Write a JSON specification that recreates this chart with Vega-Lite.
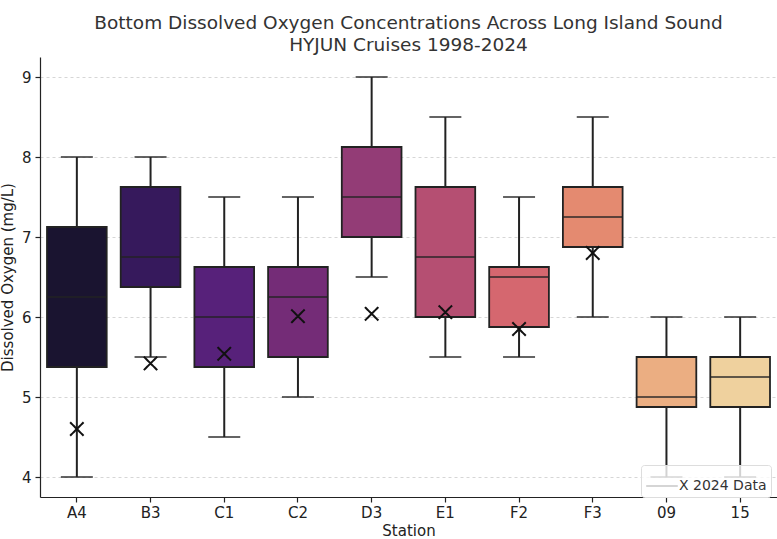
{
  "$schema": "https://vega.github.io/schema/vega-lite/v6.json",
  "width": 737,
  "height": 440,
  "autosize": {"type": "none"},
  "padding": {"left": 40, "top": 57, "right": 0, "bottom": 42},
  "background": "white",
  "title": {
    "text": ["Bottom Dissolved Oxygen Concentrations Across Long Island Sound", "HYJUN Cruises 1998-2024"],
    "font": "DejaVu Sans",
    "fontSize": 18.5,
    "fontWeight": "normal",
    "color": "#333333",
    "lineHeight": 22,
    "anchor": "middle",
    "offset": 3
  },
  "config": {
    "view": {"stroke": null},
    "axis": {
      "labelFont": "DejaVu Sans",
      "titleFont": "DejaVu Sans",
      "labelFontSize": 15,
      "titleFontSize": 15,
      "titleFontWeight": "normal",
      "labelColor": "#222222",
      "titleColor": "#222222",
      "domainColor": "#222222",
      "tickColor": "#222222",
      "domainWidth": 1.2,
      "tickWidth": 1.2,
      "tickSize": 5
    }
  },
  "datasets": {
    "boxes": [
      {"station": "A4", "min": 4.0, "q1": 5.375, "median": 6.25, "q3": 7.125, "max": 8.0},
      {"station": "B3", "min": 5.5, "q1": 6.375, "median": 6.75, "q3": 7.625, "max": 8.0},
      {"station": "C1", "min": 4.5, "q1": 5.375, "median": 6.0, "q3": 6.625, "max": 7.5},
      {"station": "C2", "min": 5.0, "q1": 5.5, "median": 6.25, "q3": 6.625, "max": 7.5},
      {"station": "D3", "min": 6.5, "q1": 7.0, "median": 7.5, "q3": 8.125, "max": 9.0},
      {"station": "E1", "min": 5.5, "q1": 6.0, "median": 6.75, "q3": 7.625, "max": 8.5},
      {"station": "F2", "min": 5.5, "q1": 5.875, "median": 6.5, "q3": 6.625, "max": 7.5},
      {"station": "F3", "min": 6.0, "q1": 6.875, "median": 7.25, "q3": 7.625, "max": 8.5},
      {"station": "09", "min": 4.0, "q1": 4.875, "median": 5.0, "q3": 5.5, "max": 6.0},
      {"station": "15", "min": 4.0, "q1": 4.875, "median": 5.25, "q3": 5.5, "max": 6.0}
    ],
    "obs2024": [
      {"station": "A4", "do": 4.6, "series": "X 2024 Data"},
      {"station": "B3", "do": 5.42, "series": "X 2024 Data"},
      {"station": "C1", "do": 5.54, "series": "X 2024 Data"},
      {"station": "C2", "do": 6.01, "series": "X 2024 Data"},
      {"station": "D3", "do": 6.04, "series": "X 2024 Data"},
      {"station": "E1", "do": 6.06, "series": "X 2024 Data"},
      {"station": "F2", "do": 5.85, "series": "X 2024 Data"},
      {"station": "F3", "do": 6.8, "series": "X 2024 Data"}
    ]
  },
  "encoding": {
    "x": {
      "field": "station",
      "type": "nominal",
      "sort": ["A4", "B3", "C1", "C2", "D3", "E1", "F2", "F3", "09", "15"],
      "scale": {"domain": ["A4", "B3", "C1", "C2", "D3", "E1", "F2", "F3", "09", "15"], "paddingInner": 0, "paddingOuter": 0},
      "axis": {"title": "Station", "labelAngle": 0, "labelPadding": 3, "titlePadding": 3}
    }
  },
  "layer": [
    {
      "data": {"name": "boxes"},
      "mark": {"type": "rule", "color": "#222222", "strokeWidth": 2},
      "encoding": {
        "y": {
          "field": "min", "type": "quantitative",
          "scale": {"domain": [3.75, 9.25], "nice": false, "zero": false},
          "axis": {
            "title": "Dissolved Oxygen (mg/L)",
            "values": [4, 5, 6, 7, 8, 9],
            "format": "d",
            "grid": true,
            "gridDash": [3, 3],
            "gridColor": "#cccccc",
            "gridWidth": 0.8,
            "labelPadding": 4,
            "titlePadding": 6
          }
        },
        "y2": {"field": "max"}
      }
    },
    {
      "data": {"name": "boxes"},
      "mark": {"type": "tick", "color": "#222222", "thickness": 2, "size": 32},
      "encoding": {"y": {"field": "min", "type": "quantitative"}}
    },
    {
      "data": {"name": "boxes"},
      "mark": {"type": "tick", "color": "#222222", "thickness": 2, "size": 32},
      "encoding": {"y": {"field": "max", "type": "quantitative"}}
    },
    {
      "data": {"name": "boxes"},
      "mark": {"type": "bar", "width": {"band": 0.81}, "stroke": "#222222", "strokeWidth": 1.8, "fillOpacity": 1},
      "encoding": {
        "y": {"field": "q1", "type": "quantitative"},
        "y2": {"field": "q3"},
        "fill": {
          "field": "station",
          "type": "nominal",
          "scale": {
            "domain": ["A4", "B3", "C1", "C2", "D3", "E1", "F2", "F3", "09", "15"],
            "range": ["#1a1430", "#36195c", "#57217a", "#742c77", "#933c76", "#b54f72", "#d5676f", "#e48a70", "#ebae82", "#efd19e"]
          },
          "legend": null
        }
      }
    },
    {
      "data": {"name": "boxes"},
      "mark": {"type": "tick", "color": "#222222", "thickness": 2, "size": 60},
      "encoding": {"y": {"field": "median", "type": "quantitative"}}
    },
    {
      "data": {"name": "obs2024"},
      "mark": {"type": "point", "shape": "M-1,-1L1,1M-1,1L1,-1", "filled": false, "size": 180, "strokeWidth": 2, "opacity": 1, "stroke": "#111111"},
      "encoding": {
        "y": {"field": "do", "type": "quantitative"},
        "strokeDash": {
          "field": "series",
          "type": "nominal",
          "scale": {"range": [[1, 0]]},
          "legend": {
            "title": null,
            "orient": "none",
            "legendX": 601,
            "legendY": 408,
            "symbolType": "stroke",
            "symbolStrokeColor": "#c8c8c8",
            "symbolStrokeWidth": 1.5,
            "symbolSize": 1000,
            "labelFont": "DejaVu Sans",
            "labelFontSize": 14,
            "labelColor": "#333333",
            "labelOffset": 0,
            "strokeColor": "#dddddd",
            "fillColor": "rgba(255,255,255,0.8)",
            "cornerRadius": 3,
            "padding": 4
          }
        }
      }
    }
  ]
}
